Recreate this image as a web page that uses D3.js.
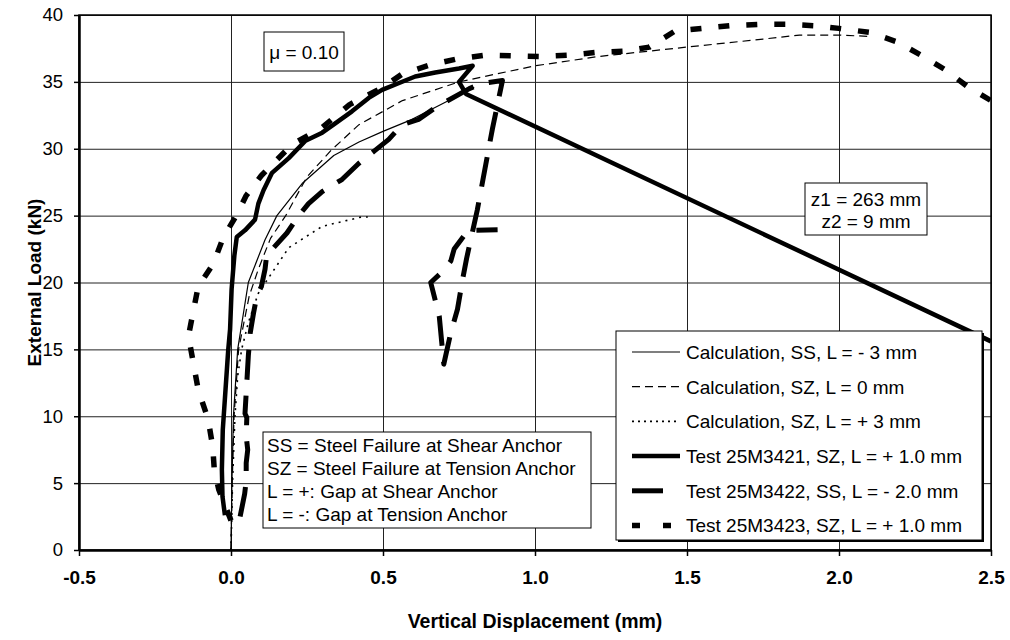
<!DOCTYPE html>
<html>
<head>
<meta charset="utf-8">
<script src="https://cdn.jsdelivr.net/npm/d3@7"></script>
<style>
  html, body { margin: 0; padding: 0; background: #fff; }
  svg { display: block; font-family: "Liberation Sans", Arial, sans-serif; }
</style>
</head>
<body>
<svg id="chart" width="1010" height="640"></svg>
<script>
// ---------------- data ----------------
const xTickValues = [-0.5, 0.0, 0.5, 1.0, 1.5, 2.0, 2.5];
const xTickLabels = ["-0.5", "0.0", "0.5", "1.0", "1.5", "2.0", "2.5"];
const yTickValues = [0, 5, 10, 15, 20, 25, 30, 35, 40];
const yTickLabels = ["0", "5", "10", "15", "20", "25", "30", "35", "40"];

const seriesNames = [
  "Calculation, SS, L = - 3 mm",
  "Calculation, SZ, L = 0 mm",
  "Calculation, SZ, L = + 3 mm",
  "Test 25M3421, SZ, L = + 1.0 mm",
  "Test 25M3422, SS, L = - 2.0 mm",
  "Test 25M3423, SZ, L = + 1.0 mm"
];

// [displacement (mm), load (kN)]
const calcSS = [[0,0],[0.003,5],[0.008,10],[0.022,15],[0.057,20],[0.112,23.2],[0.151,25],
  [0.234,27.4],[0.338,29.5],[0.421,30.5],[0.5,31.3],[0.586,32.1],[0.75,34.0],[0.8,34.6]];

const calcSZ0 = [[0,0],[0.004,5],[0.01,10],[0.025,15],[0.06,19],[0.09,21],[0.13,23.3],[0.18,25],
  [0.25,27.9],[0.33,29.9],[0.421,31.8],[0.564,33.6],[0.75,35.0],[1.0,36.2],[1.21,36.9],
  [1.5,37.6],[1.75,38.2],[1.87,38.5],[2.0,38.5],[2.1,38.4]];

const calcSZ3 = [[0,0],[0.005,5],[0.013,10],[0.022,13],[0.035,15],[0.057,17],[0.09,19.2],
  [0.134,20.7],[0.19,22.6],[0.30,24.2],[0.43,24.9],[0.45,24.9]];

const test21 = [[-0.02,2.6],[-0.028,4],[-0.03,6],[-0.027,9],[-0.018,12],[-0.012,14],[-0.009,15],
  [-0.003,16.5],[0.002,19.5],[0.011,22],[0.019,23.4],[0.046,23.9],[0.079,24.7],[0.09,25.9],
  [0.107,26.9],[0.135,28.2],[0.19,29.3],[0.245,30.6],[0.3,31.2],[0.343,31.9],[0.398,32.8],
  [0.453,33.8],[0.497,34.4],[0.551,34.9],[0.606,35.4],[0.672,35.7],[0.75,36.0],[0.795,36.2],
  [0.75,35.0],[0.773,34.1],[2.5,15.6]];

const test22 = [[0.03,2.5],[0.045,4.2],[0.05,5.2],[0.05,6.5],[0.055,7.5],[0.05,8.5],[0.052,9.9],
  [0.046,10.2],[0.052,12.5],[0.057,14.5],[0.063,16.2],[0.074,17.7],[0.085,19],[0.1,19.7],
  [0.112,21],[0.118,22.2],[0.14,22.6],[0.184,23.7],[0.223,25.0],[0.255,25.9],[0.3,26.8],
  [0.365,27.7],[0.42,28.9],[0.475,29.9],[0.519,30.7],[0.563,31.8],[0.617,32.2],[0.674,33.1],
  [0.784,34.5],[0.828,34.9],[0.893,35.1],[0.86,31.5],[0.81,25.4],[0.775,21.8],[0.762,20.25],
  [0.745,18],[0.723,16.25],[0.70,13.9],[0.685,17.5],[0.657,20],[0.70,20.9],[0.723,21.6],
  [0.734,22.5],[0.78,23.9],[0.877,23.95]];

const test23 = [[0,2.2],[-0.04,4.5],[-0.055,6],[-0.06,7.7],[-0.075,9.75],[-0.108,12],[-0.14,16],
  [-0.108,19.7],[-0.058,21.4],[-0.025,23.4],[0.019,25.05],[0.05,26.5],[0.1,28],[0.2,30.3],
  [0.3,31.6],[0.39,33.3],[0.5,34.6],[0.564,35.6],[0.652,36.25],[0.74,36.7],[0.838,37.0],
  [0.926,36.95],[1.02,36.9],[1.113,37.0],[1.2,37.2],[1.3,37.3],[1.376,37.6],[1.46,38.8],
  [1.55,39.0],[1.64,39.2],[1.74,39.3],[1.83,39.3],[1.92,39.2],[2.0,39.0],[2.1,38.7],
  [2.19,38.0],[2.27,37.0],[2.35,35.9],[2.42,34.7],[2.5,33.6]];

const notesLines = [
  "SS = Steel Failure at Shear Anchor",
  "SZ = Steel Failure at Tension Anchor",
  "L = +: Gap at Shear Anchor",
  "L = -: Gap at Tension Anchor"
];
const zLines = ["z1 = 263 mm", "z2 = 9 mm"];
const muLabel = "\u03bc = 0.10";
const xTitle = "Vertical Displacement (mm)";
const yTitle = "External Load (kN)";

// ---------------- drawing ----------------
const svg = d3.select("#chart");
const L = 79, R = 991, T = 15, B = 550;
const x = d3.scaleLinear().domain([-0.5, 2.5]).range([L, R]);
const y = d3.scaleLinear().domain([0, 40]).range([B, T]);
const FS = 19;

const styles = [
  { w: 1.2, dash: null },
  { w: 1.2, dash: "8,5" },
  { w: 1.6, dash: "2,5" },
  { w: 4.5, dash: null },
  { w: 5, dash: "30,16" },
  { w: 5.5, dash: "11,17" }
];
const allSeries = [calcSS, calcSZ0, calcSZ3, test21, test22, test23];

// gridlines
svg.append("g").attr("transform", `translate(0,${B})`)
  .call(d3.axisBottom(x).tickValues(xTickValues).tickSize(-(B - T)).tickFormat(""))
  .call(g => g.select(".domain").remove())
  .call(g => g.selectAll("line").attr("stroke", "#222").attr("stroke-width", 1));
svg.append("g").attr("transform", `translate(${L},0)`)
  .call(d3.axisLeft(y).tickValues(yTickValues).tickSize(-(R - L)).tickFormat(""))
  .call(g => g.select(".domain").remove())
  .call(g => g.selectAll("line").attr("stroke", "#222").attr("stroke-width", 1));

// plot border
svg.append("rect").attr("x", L).attr("y", T).attr("width", R - L).attr("height", B - T)
  .attr("fill", "none").attr("stroke", "#000").attr("stroke-width", 1.5);

// axes
const xAxis = svg.append("g").attr("transform", `translate(0,${B})`)
  .call(d3.axisBottom(x).tickValues(xTickValues).tickSize(6).tickSizeOuter(0).tickPadding(15)
    .tickFormat((d, i) => xTickLabels[i]));
xAxis.select(".domain").attr("stroke", "#000").attr("stroke-width", 2.5);
xAxis.selectAll("line").attr("stroke", "#000").attr("stroke-width", 1.5);
xAxis.selectAll("text").attr("font-size", FS).attr("font-weight", "bold").attr("fill", "#000")
  .attr("font-family", "'Liberation Sans', Arial, sans-serif");

const yAxis = svg.append("g").attr("transform", `translate(${L},0)`)
  .call(d3.axisLeft(y).tickValues(yTickValues).tickSize(5).tickSizeOuter(0).tickPadding(11)
    .tickFormat((d, i) => yTickLabels[i]));
yAxis.select(".domain").attr("stroke", "#000").attr("stroke-width", 2.5);
yAxis.selectAll("line").attr("stroke", "#000").attr("stroke-width", 1.5);
yAxis.selectAll("text").attr("font-size", 18.5).attr("fill", "#000")
  .attr("font-family", "'Liberation Sans', Arial, sans-serif");

// axis titles
svg.append("text").attr("x", (L + R) / 2).attr("y", 628).attr("text-anchor", "middle")
  .attr("font-size", 19.5).attr("font-weight", "bold").text(xTitle);
svg.append("text").attr("transform", `translate(41,${(T + B) / 2}) rotate(-90)`)
  .attr("text-anchor", "middle").attr("font-size", 19).attr("font-weight", "bold").text(yTitle);

// clip
svg.append("clipPath").attr("id", "plotclip").append("rect")
  .attr("x", L).attr("y", T).attr("width", R - L).attr("height", B - T);

const line = d3.line().x(d => x(d[0])).y(d => y(d[1]));
const curves = svg.append("g").attr("clip-path", "url(#plotclip)");
allSeries.forEach((s, i) => {
  curves.append("path").datum(s).attr("d", line)
    .attr("fill", "none").attr("stroke", "#000")
    .attr("stroke-width", styles[i].w)
    .attr("stroke-dasharray", styles[i].dash)
    .attr("stroke-linejoin", "round")
    .attr("stroke-linecap", "butt");
});

// mu box
const mu = svg.append("g");
mu.append("rect").attr("x", 264).attr("y", 32).attr("width", 80).attr("height", 39)
  .attr("fill", "#fff").attr("stroke", "#000").attr("stroke-width", 1);
mu.append("text").attr("x", 304).attr("y", 58.5).attr("text-anchor", "middle")
  .attr("font-size", FS).text(muLabel);

// z box
const zb = svg.append("g");
zb.append("rect").attr("x", 805).attr("y", 183).attr("width", 122).attr("height", 52)
  .attr("fill", "#fff").attr("stroke", "#000").attr("stroke-width", 1);
zLines.forEach((t, i) => {
  zb.append("text").attr("x", 866).attr("y", 205.5 + i * 22.7).attr("text-anchor", "middle")
    .attr("font-size", FS).text(t);
});

// notes box
const nb = svg.append("g");
nb.append("rect").attr("x", 263).attr("y", 432).attr("width", 328).attr("height", 96)
  .attr("fill", "#fff").attr("stroke", "#000").attr("stroke-width", 1);
notesLines.forEach((t, i) => {
  nb.append("text").attr("x", 267).attr("y", 451.5 + i * 23.3)
    .attr("font-size", FS).text(t);
});

// legend
const lg = svg.append("g");
lg.append("rect").attr("x", 618).attr("y", 333).attr("width", 366).attr("height", 209)
  .attr("fill", "#000");
lg.append("rect").attr("x", 616).attr("y", 331).attr("width", 366).attr("height", 209)
  .attr("fill", "#fff").attr("stroke", "#000").attr("stroke-width", 1);
seriesNames.forEach((name, i) => {
  const cy = 352 + i * 34.7;
  const st = styles[i];
  let x1 = 632, x2 = 680;
  if (i === 4) x2 = 663;
  if (i === 5) x2 = 672;
  lg.append("line").attr("x1", x1).attr("x2", x2).attr("y1", cy).attr("y2", cy)
    .attr("stroke", "#000").attr("stroke-width", st.w)
    .attr("stroke-dasharray", i === 5 ? "8,23" : (i === 2 ? "2,4" : (i === 1 ? "8,5" : null)));
  lg.append("text").attr("x", 686).attr("y", cy + 6.8).attr("font-size", FS).text(name);
});
</script>
</body>
</html>
